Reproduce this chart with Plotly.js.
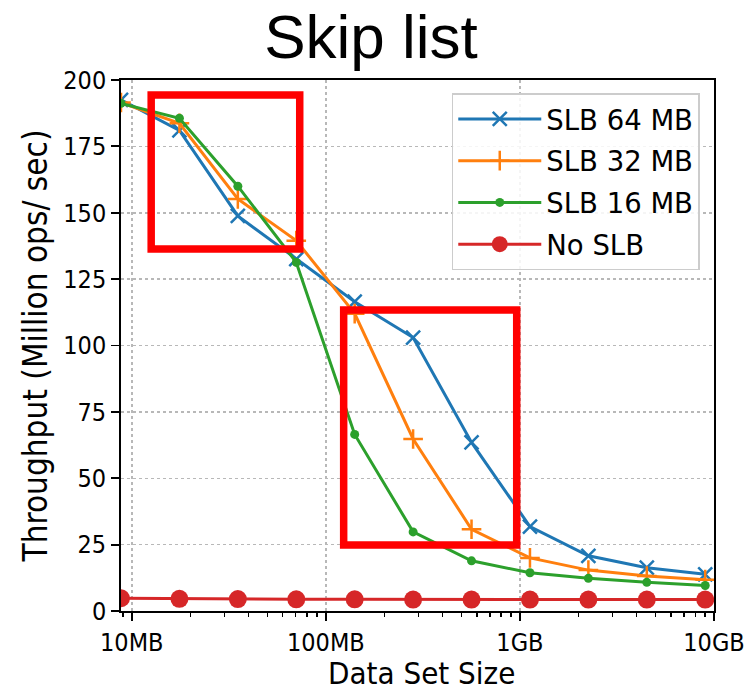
<!DOCTYPE html>
<html>
<head>
<meta charset="utf-8">
<script src="https://cdn.plot.ly/plotly-3.0.1.min.js"></script>
<style>html,body{margin:0;padding:0;background:#fff;}</style>
</head>
<body>
<div id="chart" style="width:748px;height:690px;"></div>
<script>
// Data set sizes in MB (each step doubles)
const sizesMB = [8.8, 17.6, 35.2, 70.4, 140.8, 281.6, 563.2, 1126.4, 2252.8, 4505.6, 9011.2];
const seriesNames = ["SLB 64 MB", "SLB 32 MB", "SLB 16 MB", "No SLB"];
const slb64 = [192.5, 181.0, 148.8, 132.5, 116.5, 103.0, 63.5, 31.8, 20.8, 16.3, 13.8];
const slb32 = [191.5, 183.7, 155.2, 139.5, 112.0, 64.8, 30.8, 20.0, 15.4, 13.2, 11.8];
const slb16 = [191.2, 185.6, 160.0, 131.3, 66.5, 29.8, 18.9, 14.4, 12.3, 10.8, 9.6];
const noSlb = [4.8, 4.6, 4.5, 4.4, 4.4, 4.3, 4.3, 4.3, 4.3, 4.3, 4.3];
const xTickVals = [10, 100, 1000, 10000];
const xTickText = ["10MB", "100MB", "1GB", "10GB"];
const yTickVals = [0, 25, 50, 75, 100, 125, 150, 175, 200];
const xTitle = "Data Set Size";
const yTitle = "Throughput (Million ops/ sec)";

const minorVals = [];
[1, 10, 100, 1000].forEach(d => { for (let k = 2; k <= 9; k++) minorVals.push(k * d); });
minorVals.unshift(9);

const font = "DejaVu Sans Condensed, DejaVu Sans, sans-serif";
const legendFont = "DejaVu Sans, sans-serif";
const colors = ["#1f77b4", "#ff7f0e", "#2ca02c", "#d62728"];

const traces = [
  {x: sizesMB, y: slb64, name: seriesNames[0], legendgroup: "g1", mode: "lines+markers",
   line: {color: colors[0], width: 3},
   marker: {symbol: "x-thin", size: 14, color: colors[0], line: {color: colors[0], width: 2.5}}},
  {x: sizesMB, y: slb32, name: seriesNames[1], legendgroup: "g2", mode: "lines+markers",
   line: {color: colors[1], width: 3},
   marker: {symbol: "cross-thin", size: 14, color: colors[1], line: {color: colors[1], width: 2.5}}},
  {x: sizesMB, y: slb16, name: seriesNames[2], legendgroup: "g3", mode: "lines+markers",
   line: {color: colors[2], width: 3},
   marker: {symbol: "circle", size: 9, color: colors[2]}},
  {x: sizesMB, y: noSlb, name: seriesNames[3], legendgroup: "g4", mode: "lines+markers",
   line: {color: colors[3], width: 3},
   marker: {symbol: "circle", size: 18, color: colors[3]}}
];

const layout = {
  width: 748, height: 690,
  margin: {l: 121, r: 34, t: 80, b: 79},
  paper_bgcolor: "#ffffff", plot_bgcolor: "#ffffff",
  font: {family: font, color: "#000000"},
  title: {text: "Skip list", font: {family: "Liberation Sans, Arial, sans-serif", size: 62, color: "#000"},
          x: 0.496, xref: "container", xanchor: "center", y: 0.947, yref: "container", yanchor: "middle"},
  xaxis: {
    type: "log", range: [Math.log10(8.8), 4],
    tickvals: xTickVals, ticktext: xTickText,
    ticks: "outside", ticklen: 8, tickwidth: 1.8, tickcolor: "#000",
    tickfont: {family: font, size: 25, color: "#000"},
    showline: true, linecolor: "#000", linewidth: 1.8, mirror: true,
    showgrid: true, gridcolor: "#b8b8b8", gridwidth: 1.5, griddash: "dot",
    zeroline: false,
    minor: {tickvals: minorVals, ticks: "outside", ticklen: 4.5, tickwidth: 1.3, tickcolor: "#000", showgrid: false}
  },
  yaxis: {
    range: [0, 200], tickvals: yTickVals,
    ticks: "outside", ticklen: 8, tickwidth: 1.8, tickcolor: "#000",
    tickfont: {family: font, size: 25, color: "#000"},
    showline: true, linecolor: "#000", linewidth: 1.8, mirror: true,
    showgrid: true, gridcolor: "#b8b8b8", gridwidth: 1.5, griddash: "dot",
    zeroline: false,
    title: {text: yTitle, font: {family: font, size: 33, color: "#000"}, standoff: 6}
  },
  legend: {
    x: 0.976, y: 0.9755, xanchor: "right", yanchor: "top",
    bgcolor: "rgba(255,255,255,0.85)", bordercolor: "#cccccc", borderwidth: 1.5,
    font: {family: legendFont, size: 27.5, color: "#000"},
    itemwidth: 83, tracegroupgap: 3
  },
  showlegend: true,
  annotations: [
    {text: xTitle, xref: "paper", yref: "paper", x: 0.507, y: -0.1168, xanchor: "center", yanchor: "middle",
     showarrow: false, font: {family: font, size: 31, color: "#000"}}
  ],
  shapes: [
    {type: "rect", xref: "paper", yref: "paper", x0: 0.0509, x1: 0.3014, y0: 0.6817, y1: 0.9718,
     line: {color: "#ff0000", width: 7.5}, fillcolor: "rgba(0,0,0,0)", layer: "above"},
    {type: "rect", xref: "paper", yref: "paper", x0: 0.3755, x1: 0.6673, y0: 0.1243, y1: 0.5669,
     line: {color: "#ff0000", width: 7.5}, fillcolor: "rgba(0,0,0,0)", layer: "above"}
  ]
};

Plotly.newPlot("chart", traces, layout, {displayModeBar: false, staticPlot: true});
</script>
</body>
</html>
